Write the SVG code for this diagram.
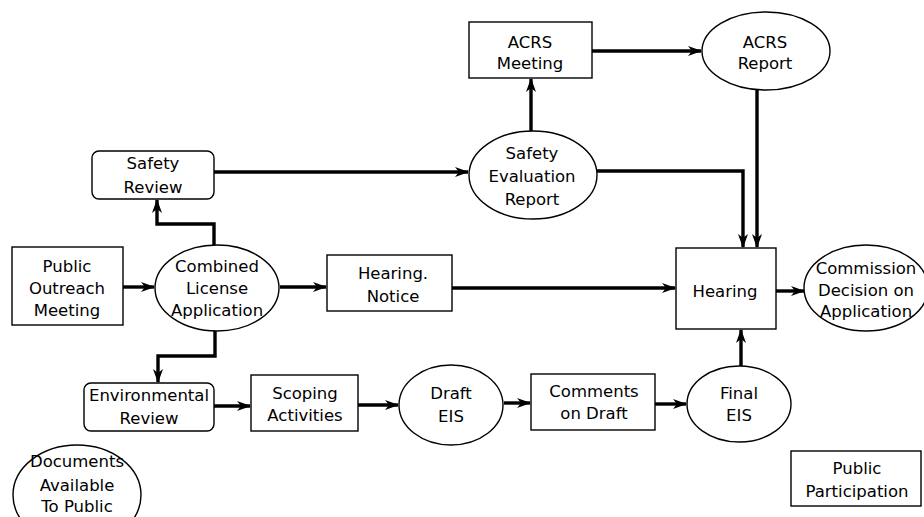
<svg xmlns="http://www.w3.org/2000/svg" width="924" height="517" viewBox="0 0 924 517">
<style>
.n{fill:#fff;stroke:#000;stroke-width:1.4}
.t{font-family:"DejaVu Sans","Liberation Sans",sans-serif;font-size:16.5px;fill:#000;text-anchor:middle}
.c{fill:none;stroke:#000;stroke-width:3.4;marker-end:url(#ah)}
</style>
<defs>
<marker id="ah" viewBox="0 0 14 10" refX="13" refY="5" markerWidth="14" markerHeight="10" markerUnits="userSpaceOnUse" orient="auto">
<path d="M0,0 L14,5 L0,10 L4,5 z" fill="#000"/>
</marker>
</defs>
<rect width="924" height="517" fill="#fff"/>
<g id="connectors">
<path class="c" d="M214,172 H468"/>
<path class="c" d="M214,245 V224 H157 V200"/>
<path class="c" d="M531,131 V79"/>
<path class="c" d="M592,51 H701"/>
<path class="c" d="M597,171 H743 V247"/>
<path class="c" d="M757,90 V247"/>
<path class="c" d="M123,287 H154"/>
<path class="c" d="M280,287 H326"/>
<path class="c" d="M452,288 H675"/>
<path class="c" d="M776,291 H804"/>
<path class="c" d="M215,330 V356 H158 V382"/>
<path class="c" d="M214,406 H250"/>
<path class="c" d="M358,405 H398"/>
<path class="c" d="M504,403 H530"/>
<path class="c" d="M655,404 H686"/>
<path class="c" d="M741,366 V330"/>
</g>
<g id="safety-review">
<rect class="n" x="92" y="151" width="122" height="48" rx="7"/>
<text class="t" x="153" y="169">Safety</text>
<text class="t" x="153" y="193">Review</text>
</g>
<g id="acrs-meeting">
<rect class="n" x="469" y="22" width="123" height="56"/>
<text class="t" x="530" y="48">ACRS</text>
<text class="t" x="530" y="69">Meeting</text>
</g>
<g id="acrs-report">
<ellipse class="n" cx="766" cy="51" rx="64" ry="39"/>
<text class="t" x="765" y="48">ACRS</text>
<text class="t" x="765" y="69">Report</text>
</g>
<g id="safety-evaluation-report">
<ellipse class="n" cx="533" cy="175" rx="64" ry="44"/>
<text class="t" x="532" y="159">Safety</text>
<text class="t" x="532" y="182">Evaluation</text>
<text class="t" x="532" y="205">Report</text>
</g>
<g id="public-outreach-meeting">
<rect class="n" x="12" y="247" width="111" height="78"/>
<text class="t" x="67" y="272">Public</text>
<text class="t" x="67" y="294">Outreach</text>
<text class="t" x="67" y="316">Meeting</text>
</g>
<g id="combined-license-application">
<ellipse class="n" cx="217" cy="288" rx="62" ry="43"/>
<text class="t" x="217" y="272">Combined</text>
<text class="t" x="217" y="294">License</text>
<text class="t" x="217" y="316">Application</text>
</g>
<g id="hearing-notice">
<rect class="n" x="327" y="255" width="125" height="56"/>
<text class="t" x="393" y="279">Hearing.</text>
<text class="t" x="393" y="302">Notice</text>
</g>
<g id="hearing">
<rect class="n" x="676" y="248" width="100" height="81"/>
<text class="t" x="725" y="297">Hearing</text>
</g>
<g id="commission-decision">
<ellipse class="n" cx="866" cy="288" rx="62" ry="43"/>
<text class="t" x="866" y="274">Commission</text>
<text class="t" x="866" y="296">Decision on</text>
<text class="t" x="866" y="317">Application</text>
</g>
<g id="environmental-review">
<rect class="n" x="84" y="383" width="130" height="48" rx="7"/>
<text class="t" x="149" y="401">Environmental</text>
<text class="t" x="149" y="424">Review</text>
</g>
<g id="scoping-activities">
<rect class="n" x="251" y="375" width="107" height="56"/>
<text class="t" x="305" y="399">Scoping</text>
<text class="t" x="305" y="421">Activities</text>
</g>
<g id="draft-eis">
<ellipse class="n" cx="451" cy="405" rx="52" ry="40"/>
<text class="t" x="451" y="399">Draft</text>
<text class="t" x="451" y="422">EIS</text>
</g>
<g id="comments-on-draft">
<rect class="n" x="531" y="374" width="124" height="56"/>
<text class="t" x="594" y="397">Comments</text>
<text class="t" x="594" y="419">on Draft</text>
</g>
<g id="final-eis">
<ellipse class="n" cx="739" cy="404" rx="52" ry="38"/>
<text class="t" x="739" y="399">Final</text>
<text class="t" x="739" y="421">EIS</text>
</g>
<g id="public-participation">
<rect class="n" x="791" y="451" width="130" height="55"/>
<text class="t" x="857" y="474">Public</text>
<text class="t" x="857" y="497">Participation</text>
</g>
<g id="documents-available">
<ellipse class="n" cx="77" cy="495" rx="64" ry="50"/>
<text class="t" x="77" y="467">Documents</text>
<text class="t" x="77" y="491">Available</text>
<text class="t" x="77" y="512">To Public</text>
</g>
</svg>
